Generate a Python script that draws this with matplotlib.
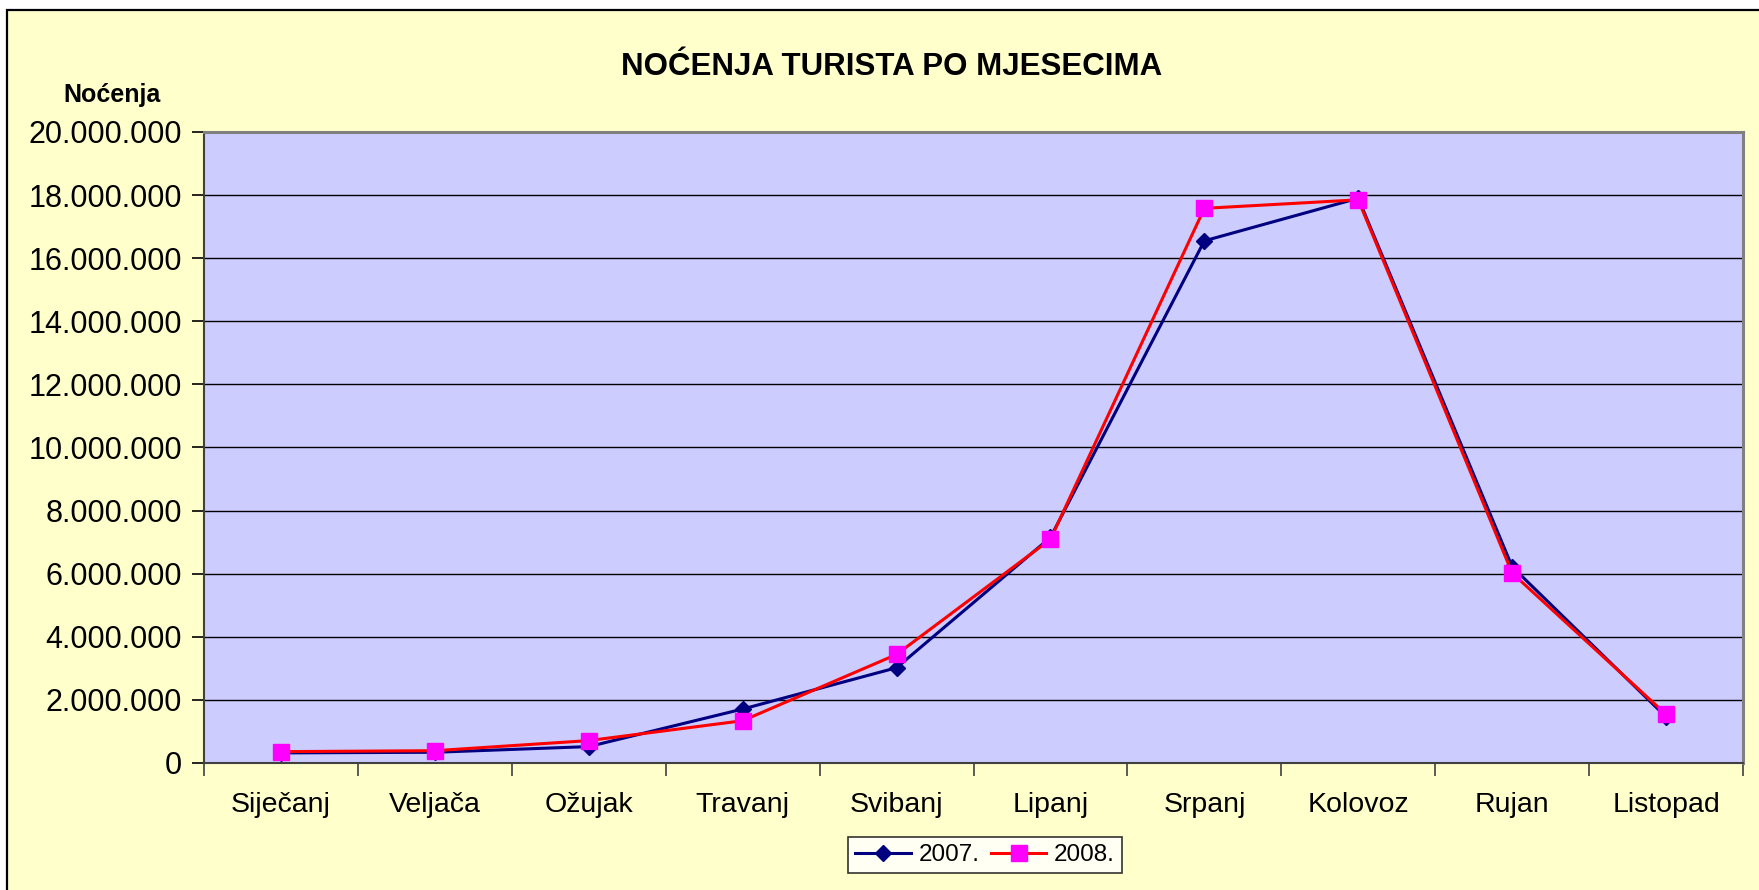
import matplotlib.pyplot as plt
from matplotlib.patches import Rectangle
from matplotlib.ticker import FixedLocator, FuncFormatter

mjeseci = ['Siječanj', 'Veljača', 'Ožujak', 'Travanj', 'Svibanj',
           'Lipanj', 'Srpanj', 'Kolovoz', 'Rujan', 'Listopad']
nocenja_2007 = [320000, 340000, 520000, 1710000, 3020000,
                7150000, 16550000, 17900000, 6220000, 1460000]
nocenja_2008 = [360000, 390000, 710000, 1340000, 3440000,
                7090000, 17580000, 17850000, 6020000, 1540000]
y_ticks = list(range(0, 20000001, 2000000))

plt.rcParams['font.family'] = ['Liberation Sans', 'DejaVu Sans']

fig = plt.figure(figsize=(17.59, 8.90), dpi=100)
fig.patch.set_facecolor('white')
# chart area frame (yellow), behind everything
fig.patches.append(Rectangle((7 / 1759, -0.01), 1.01, 1 - 10 / 890 + 0.01,
                             transform=fig.transFigure, facecolor='#FFFFCC',
                             edgecolor='black', linewidth=1.6, zorder=-10))

ax = fig.add_axes([0.116, 0.1427, 0.8749, 0.709])
ax.set_facecolor('#CCCCFF')

x = list(range(len(mjeseci)))
ax.plot(x, nocenja_2007, color='#000080', linewidth=2.2, marker='D',
        markersize=8.5, markerfacecolor='#000080', markeredgecolor='#000080',
        label='2007.', zorder=3)
ax.plot(x, nocenja_2008, color='#FF0000', linewidth=2.2, marker='s',
        markersize=11, markerfacecolor='#FF00FF', markeredgecolor='#FF00FF',
        label='2008.', zorder=4)

ax.set_xlim(-0.5, len(mjeseci) - 0.5)
ax.set_ylim(0, 20000000)
ax.set_yticks(y_ticks)
ax.yaxis.set_major_formatter(FuncFormatter(lambda v, p: f'{int(v):,}'.replace(',', '.')))
ax.grid(axis='y', color='black', linewidth=1.0, zorder=1)
ax.set_axisbelow(True)

ax.xaxis.set_major_locator(FixedLocator([i - 0.5 for i in range(len(mjeseci) + 1)]))
ax.xaxis.set_major_formatter(FuncFormatter(lambda v, p: ''))
ax.xaxis.set_minor_locator(FixedLocator(x))
ax.set_xticklabels(mjeseci, minor=True)
ax.tick_params(axis='x', which='minor', length=0, pad=21, labelsize=20.5)
ax.tick_params(axis='x', which='major', length=9, width=1.2, color='#404040')
ax.tick_params(axis='y', length=9, width=1.2, labelsize=22, pad=7)

for s in ['top', 'right']:
    ax.spines[s].set_color('#808080')
    ax.spines[s].set_linewidth(2.2)
ax.spines['left'].set_color('#404040')
ax.spines['bottom'].set_color('#404040')
ax.spines['left'].set_linewidth(1.5)
ax.spines['bottom'].set_linewidth(1.5)

fig.text(0.507, 0.925, 'NOĆENJA TURISTA PO MJESECIMA', ha='center', va='center',
         fontsize=22.5, fontweight='bold')
fig.text(0.0637, 0.893, 'Noćenja', ha='center', va='center',
         fontsize=18, fontweight='bold')

leg = fig.legend(loc='center', bbox_to_anchor=(0.560, 0.0393), ncol=2,
                 fontsize=17.5, frameon=True, fancybox=False, handlelength=2.3,
                 columnspacing=0.45, handletextpad=0.3, borderpad=0.3)
leg.get_frame().set_edgecolor('black')
leg.get_frame().set_linewidth(1.2)
leg.get_frame().set_facecolor('white')

plt.savefig('out.png', dpi=100, facecolor=fig.get_facecolor())
